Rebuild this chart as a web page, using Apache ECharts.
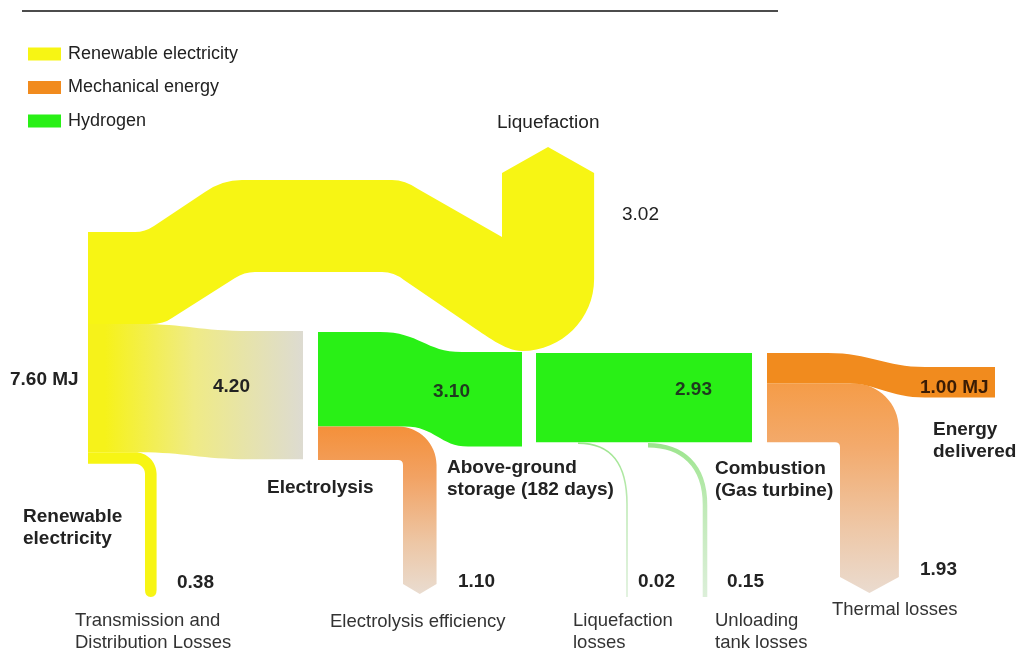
<!DOCTYPE html>
<html><head><meta charset="utf-8">
<script src="https://cdn.jsdelivr.net/npm/echarts@6/dist/echarts.min.js"></script>
<style>html,body{margin:0;padding:0;background:#fff;}#chart{width:1028px;height:656px;}</style>
</head><body><div id="chart"></div>
<script>
// ---------------- DATA ----------------
const legendNames = ['Renewable electricity', 'Mechanical energy', 'Hydrogen'];
// flows (MJ)
const flowNames = ['Renewable electricity', 'Liquefaction', 'Electrolysis', 'Transmission and Distribution Losses',
  'Above-ground storage', 'Electrolysis efficiency', 'Combustion (Gas turbine)', 'Liquefaction losses',
  'Unloading tank losses', 'Energy delivered', 'Thermal losses'];
const flowValues = [7.60, 3.02, 4.20, 0.38, 3.10, 1.10, 2.93, 0.02, 0.15, 1.00, 1.93];
const flowUnits = [' MJ', '', '', '', '', '', '', '', '', ' MJ', ''];
const stageLabels = ['Liquefaction', 'Renewable\nelectricity', 'Electrolysis', 'Above-ground\nstorage (182 days)',
  'Combustion\n(Gas turbine)', 'Energy\ndelivered'];
const lossLabels = ['Transmission and\nDistribution Losses', 'Electrolysis efficiency', 'Liquefaction\nlosses',
  'Unloading\ntank losses', 'Thermal losses'];
// which flows belong to which carrier series
const yellowFlows = [1, 2, 3];
const greenFlows = [4, 6, 7, 8];
const orangeFlows = [5, 10, 9];

// ---------------- LAYOUT / STYLE ----------------
const PX = 30.5;               // px per MJ (axis units)
const Y0 = 232;                // top of source node
const FONT = '"Liberation Sans", Arial, sans-serif';
const COL = { y: '#f7f514', g: '#29f016', o: '#f18b1e' };
const valuePos = [[10, 380], [622, 215], [213, 387], [177, 583], [433, 392], [458, 582], [675, 390], [638, 582], [727, 582], [920, 388], [920, 570]];
const valueColor = ['#222', '#222', '#222', '#222', '#1f3a1f', '#222', '#1f3a1f', '#222', '#222', '#3a1c05', '#222'];
const valueBold = [true, false, true, true, true, true, true, true, true, true, true];
const stagePos = [[497, 123, 0], [23, 528, 1], [267, 488, 1], [447, 478.5, 1], [715, 480, 1], [933, 441, 1]];
const lossPos = [[75, 632], [330, 622], [573, 632], [715, 632], [832, 610]];

const band = i => flowValues[i] * PX;

function PB(api) {
  let d = '';
  const p = (x, y) => { const q = api.coord([x, y]); return q[0].toFixed(2) + ' ' + q[1].toFixed(2); };
  const o = {
    M(x, y) { d += 'M' + p(x, y); return o; },
    L(x, y) { d += 'L' + p(x, y); return o; },
    Q(a, b, x, y) { d += 'Q' + p(a, b) + ' ' + p(x, y); return o; },
    C(a, b, c, e, x, y) { d += 'C' + p(a, b) + ' ' + p(c, e) + ' ' + p(x, y); return o; },
    Z() { d += 'Z'; return o; },
    get d() { return d; }
  };
  return o;
}
function grad(api, x0, y0, x1, y1, stops) {
  const a = api.coord([x0, y0]), b = api.coord([x1, y1]);
  return new echarts.graphic.LinearGradient(a[0], a[1], b[0], b[1],
    stops.map(s => ({ offset: s[0], color: s[1] })), true);
}
const K = 0.552;

function shapeFor(i, api) {
  const p = PB(api);
  if (i === 1) { // 3.02 to liquefaction
    const w = band(1), t = Y0, b = t + w, h = t - 52, hb = h + w, UX = 502, R = 72, yc = 279;
    p.M(88, t).L(135, t).Q(145, t, 154, t - 6).L(205, h + 12).Q(222, h, 242, h).L(392, h).Q(405, h, 418, h + 9)
      .L(UX, 237).L(UX, 173).L(UX + w / 2, 147).L(UX + w, 173).L(UX + w, yc)
      .C(UX + w, yc + K * R, UX + w - R + K * R, yc + R, UX + w - R, yc + R)
      .C(505, yc + R, 485, 334.7, 470, 325).L(404, hb + 8).Q(394, hb, 382, hb).L(255, hb).Q(244, hb, 235, hb + 6)
      .L(172, b - 6).Q(164, b, 150, b).L(88, b).Z();
    return { type: 'path', shape: { pathData: p.d }, style: { fill: COL.y } };
  }
  if (i === 2) { // 4.20 to electrolysis
    const w = band(2), t = Y0 + band(1), d = 7;
    p.M(88, t).L(140, t).C(185, t, 200, t + d, 250, t + d).L(303, t + d).L(303, t + d + w).L(250, t + d + w)
      .C(200, t + d + w, 185, t + w, 140, t + w).L(88, t + w).Z();
    return { type: 'path', shape: { pathData: p.d }, style: { fill: grad(api, 105, 0, 303, 0, [[0, '#f6f21a'], [0.45, '#efeb86'], [1, '#dddbd1']]) } };
  }
  if (i === 3) { // 0.38 T&D losses
    const w = band(3), t = Y0 + band(1) + band(2), b = t + w, xv = 145, ri = 10, ro = ri + w, yEnd = 590;
    p.M(88, t).L(xv - ri, t).C(xv - ri + K * ro, t, xv + w, t + ro - K * ro, xv + w, t + ro).L(xv + w, yEnd)
      .Q(xv + w, yEnd + 7, xv + w / 2, yEnd + 7).Q(xv, yEnd + 7, xv, yEnd).L(xv, b + ri)
      .C(xv, b + ri - K * ri, xv - ri + K * ri, b, xv - ri, b).L(88, b).Z();
    return { type: 'path', shape: { pathData: p.d }, style: { fill: COL.y } };
  }
  if (i === 4) { // 3.10 hydrogen from electrolysis
    const w = band(4), t = 332, d = 20;
    p.M(318, t).L(380, t).C(420, t, 425, t + d, 462, t + d).L(522, t + d).L(522, t + d + w).L(468, t + d + w)
      .C(440, t + d + w, 435, t + w, 405, t + w).L(318, t + w).Z();
    return { type: 'path', shape: { pathData: p.d }, style: { fill: COL.g } };
  }
  if (i === 5) { // 1.10 electrolysis efficiency
    const w = band(5), t = 332 + band(4), b = t + w, xv = 403, ri = 5, ro = ri + w, yEnd = 584, tip = 594;
    p.M(318, t).L(xv - ri, t).C(xv - ri + K * ro, t, xv + w, b + ri - K * ro, xv + w, b + ri).L(xv + w, yEnd)
      .L(xv + w / 2, tip).L(xv, yEnd).L(xv, b + ri).Q(xv, b, xv - ri, b).L(318, b).Z();
    return { type: 'path', shape: { pathData: p.d }, style: { fill: grad(api, 0, t, 0, tip, [[0, '#f4903a'], [0.3, '#f2a263'], [0.7, '#edc7a6'], [1, '#e9dcd0']]) } };
  }
  if (i === 6) { // 2.93 storage -> combustion
    const w = band(6), t = 353;
    p.M(536, t).L(752, t).L(752, t + w).L(536, t + w).Z();
    return { type: 'path', shape: { pathData: p.d }, style: { fill: COL.g } };
  }
  if (i === 7 || i === 8) { // thin hydrogen losses
    const yb = 353 + band(6) + (i === 8 ? band(7) : 0);
    const w = Math.max(band(i), 1.6);
    const xs = i === 7 ? 578 : 648, xv = i === 7 ? 627 : 705;
    const c = yb + w / 2;
    p.M(xs, c).C(xs + 34, c, xv, yb + 22, xv, yb + 62).L(xv, 597);
    return { type: 'path', shape: { pathData: p.d }, style: { fill: null, stroke: grad(api, 0, yb, 0, 597, [[0, '#9ce58d'], [0.4, '#bfeab6'], [1, '#dcefd9']]), lineWidth: w } };
  }
  if (i === 9) { // 1.00 MJ delivered
    const w = band(9), t = 353, d = 14;
    p.M(767, t).L(828, t).C(870, t, 885, t + d, 925, t + d).L(995, t + d).L(995, t + d + w).L(925, t + d + w)
      .C(890, t + d + w, 875, t + w, 850, t + w).L(767, t + w).Z();
    return { type: 'path', shape: { pathData: p.d }, style: { fill: COL.o } };
  }
  if (i === 10) { // 1.93 thermal losses
    const w = band(10), t = 353 + band(9), b = t + w, xv = 840, ri = 5, R = 45, yEnd = 577, tip = 593;
    p.M(767, t).L(xv + w - R, t).C(xv + w - R + K * R, t, xv + w, t + R - K * R, xv + w, t + R).L(xv + w, yEnd)
      .L(xv + w / 2, tip).L(xv, yEnd).L(xv, b + ri).Q(xv, b, xv - ri, b).L(767, b).Z();
    return { type: 'path', shape: { pathData: p.d }, style: { fill: grad(api, 0, t, 0, tip, [[0, '#f59c48'], [0.3, '#f3aa6c'], [0.7, '#eec8a8'], [1, '#eadbcf']]) } };
  }
  return null;
}

function flowSeries(name, color, flows) {
  return {
    type: 'custom', name: name, coordinateSystem: 'cartesian2d', silent: true, animation: false,
    itemStyle: { color: color },
    data: flows.map(i => [i, flowValues[i]]),
    renderItem: (params, api) => shapeFor(flows[params.dataIndex], api)
  };
}

// labels built from data arrays
const labels = [];
flowValues.forEach((v, i) => labels.push({ text: v.toFixed(2) + flowUnits[i], x: valuePos[i][0], y: valuePos[i][1], bold: valueBold[i], size: 19, color: valueColor[i] }));
stageLabels.forEach((s, i) => labels.push({ text: s, x: stagePos[i][0], y: stagePos[i][1], bold: !!stagePos[i][2], size: 19, color: '#222' }));
lossLabels.forEach((s, i) => labels.push({ text: s, x: lossPos[i][0], y: lossPos[i][1], bold: false, size: 18.5, color: '#333' }));

const chart = echarts.init(document.getElementById('chart'), null, { renderer: 'canvas' });
chart.setOption({
  backgroundColor: '#fff',
  animation: false,
  grid: { left: 0, right: 0, top: 0, bottom: 0 },
  xAxis: { type: 'value', min: 0, max: 1028, show: false },
  yAxis: { type: 'value', min: 0, max: 656, inverse: true, show: false },
  legend: {
    data: legendNames, orient: 'vertical', left: 28, top: 45, icon: 'rect', itemWidth: 33, itemHeight: 13,
    itemGap: 15.5, padding: 0, selectedMode: false,
    textStyle: { fontSize: 18, color: '#222', fontFamily: FONT, padding: [0, 0, 0, 2] }
  },
  graphic: [{ type: 'line', shape: { x1: 22, y1: 11, x2: 778, y2: 11 }, style: { stroke: '#111', lineWidth: 1.5 } }],
  series: [
    flowSeries('Hydrogen', COL.g, greenFlows),
    flowSeries('Mechanical energy', COL.o, orangeFlows),
    flowSeries('Renewable electricity', COL.y, yellowFlows),
    {
      type: 'custom', name: 'labels', coordinateSystem: 'cartesian2d', silent: true, animation: false,
      data: labels.map((l, i) => [i, 0]),
      renderItem: (params, api) => {
        const l = labels[params.dataIndex];
        const pt = api.coord([l.x, l.y]);
        return {
          type: 'text', x: pt[0], y: pt[1],
          style: {
            text: l.text, fill: l.color, align: 'left', verticalAlign: 'middle',
            font: (l.bold ? 'bold ' : '') + l.size + 'px ' + FONT, lineHeight: l.size + 3
          }
        };
      }
    }
  ]
});
</script></body></html>
